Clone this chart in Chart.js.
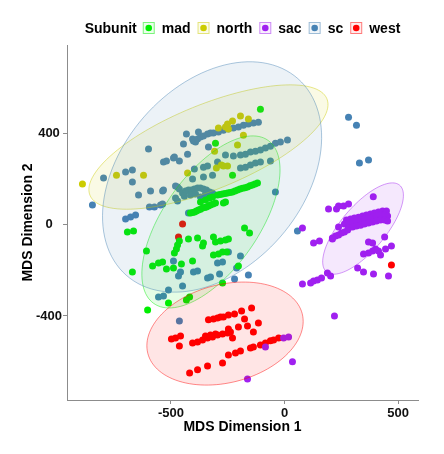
<!DOCTYPE html>
<html>
<head>
<meta charset="utf-8">
<title>MDS by subunit</title>
<script src="https://cdn.jsdelivr.net/npm/chart.js@4.4.1/dist/chart.umd.min.js"></script>
<style>
  html, body { margin: 0; padding: 0; background: #fff; }
  #wrap { width: 444px; height: 454px; position: relative; }
</style>
</head>
<body>
<div id="wrap"><canvas id="mdsChart"></canvas></div>
<script>
// groups (legend order)
const subunits = ['mad', 'north', 'sac', 'sc', 'west'];
const subunitColors = ['#00ee00', '#cccc00', '#a020f0', '#4682b4', '#ff0000'];

// axis ticks
const xTicks = [-500, 0, 500];
const yTicks = [-400, 0, 400];

// points: [dim1, dim2]
const madPts = [
  [-106, 506], [-304, 357], [-229, 217],
  [-295, 130], [-284, 132], [-273, 134], [-262, 137], [-251, 139], [-240, 141], [-229, 143], [-218, 147],
  [-207, 152], [-196, 156], [-185, 160], [-174, 162], [-163, 165], [-152, 170], [-141, 174], [-130, 178], [-119, 182],
  [-370, 99], [-348, 108], [-330, 117], [-317, 121],
  [-414, 51], [-405, 53], [-396, 55], [-388, 60], [-379, 64], [-370, 68], [-361, 73], [-352, 75], [-344, 77],
  [-335, 82], [-326, 86], [-315, 90], [-304, 95], [-269, 95], [-260, 99],
  [-692, -32], [-665, -28], [-608, -115], [-670, -207], [-603, -374],
  [-463, -72], [-471, -89], [-476, -107], [-485, -124], [-423, -63], [-383, -58], [-357, -80], [-361, -93],
  [-313, -54], [-304, -76], [-282, -72], [-260, -67], [-247, -63], [-176, -15], [-154, -37],
  [-313, -133], [-291, -128], [-273, -120], [-255, -120],
  [-581, -181], [-537, -164], [-555, -168], [-520, -194], [-489, -190], [-454, -172], [-405, -159],
  [-203, -181], [-432, -330], [-418, -317], [-511, -343], [-273, -255]
];

const northPts = [
  [-890, 178], [-740, 217], [-621, 217], [-427, 226], [-308, 322], [-300, 248], [-278, 261], [-269, 257],
  [-251, 257], [-207, 349], [-181, 392], [-291, 423], [-260, 428], [-251, 441], [-247, 419], [-229, 454],
  [-194, 476], [-159, 463]
];

const sacPts = [
  [273, 20], [291, 25], [308, 29], [326, 33], [344, 38], [361, 42], [379, 47], [396, 51], [414, 55], [432, 60], [449, 60],
  [264, 3], [282, 7], [300, 12], [317, 16], [335, 20], [352, 25], [370, 29], [388, 33], [405, 38], [423, 42], [441, 42], [454, 38],
  [282, -15], [300, -10], [317, -6], [335, -2], [352, 3], [370, 7], [388, 12], [405, 16], [423, 20], [441, 20], [454, 16],
  [211, -58], [225, -50], [238, -45], [251, -37], [264, -32], [278, -23],
  [391, 122], [194, 69], [229, 69], [238, 82], [260, 82], [282, 90], [238, -10], [79, -15],
  [128, -80], [154, -72], [211, -63], [370, -76], [388, -80], [441, -54],
  [348, -128], [370, -124], [388, -115], [401, -107], [414, -115], [423, -133], [445, -107], [471, -93],
  [322, -190], [348, -207], [392, -216], [458, -225], [189, -212], [203, -225],
  [79, -260], [115, -255], [128, -247], [145, -242], [163, -234],
  [220, -400], [35, -601], [-84, -536], [-4, -496], [18, -492], [-163, -676]
];

const scPts = [
  [-432, 397], [-405, 375], [-392, 362], [-445, 353], [-401, 366], [-383, 375], [-370, 384], [-357, 388],
  [-339, 397], [-326, 401], [-313, 401], [-291, 406], [-269, 414], [-247, 419], [-225, 423], [-203, 428],
  [-181, 436], [-159, 441], [-137, 445], [-115, 449], [-379, 406], [-335, 340],
  [-599, 331], [-533, 274], [-520, 279], [-489, 292], [-485, 296], [-463, 279], [-427, 309],
  [-797, 204], [-700, 231], [-670, 239], [-670, 187], [-643, 130], [-590, 147], [-537, 147], [-533, 152],
  [-480, 169], [-471, 165], [-463, 156], [-846, 86], [-595, 77], [-573, 77], [-546, 86], [-537, 90],
  [-700, 25], [-678, 34], [-656, 42], [-480, 117], [-471, 104],
  [-449, 139], [-436, 147], [-423, 152], [-410, 152], [-397, 156], [-383, 161], [-370, 161], [-357, 156],
  [-344, 152], [-330, 143], [-317, 139], [-441, 125], [-414, 130], [-392, 134], [-370, 121], [-348, 134], [-326, 130],
  [-405, 200], [-357, 209], [-317, 217], [-397, 244], [-357, 252], [-339, 257], [-423, 51],
  [-225, 301], [-194, 305], [-172, 309], [-150, 318], [-128, 322], [-106, 327], [-84, 336], [-62, 344],
  [-40, 357], [-18, 362], [13, 371], [-260, 305], [-295, 274],
  [-194, 248], [-172, 252], [-150, 261], [-128, 270], [-106, 274], [-62, 279], [-40, 143],
  [282, 471], [317, 436], [330, 270], [370, 283], [57, -28], [-159, -220],
  [-489, -159], [-467, -225], [-458, -207], [-449, -269], [-511, -286], [-555, -317], [-533, -312],
  [-401, -207], [-383, -203], [-339, -234], [-326, -229], [-295, -168], [-273, -164], [-247, -120],
  [-194, -137], [-211, -190], [-286, -216], [-220, -238], [-463, -422]
];

const westPts = [
  [-449, 3], [-467, -54], [471, -177],
  [-335, -417], [-313, -413], [-295, -409], [-282, -404], [-269, -404], [-247, -396], [-220, -391],
  [-189, -378], [-145, -365], [-176, -413], [-115, -431], [-203, -448], [-163, -444], [-137, -470],
  [-498, -501], [-480, -496], [-458, -488], [-463, -531], [-405, -518], [-383, -514], [-361, -505],
  [-339, -496], [-317, -492], [-295, -483], [-273, -479], [-251, -474], [-238, -470], [-247, -457],
  [-229, -496], [-348, -488], [-326, -483], [-304, -479],
  [-247, -571], [-216, -562], [-194, -553], [-150, -540], [-137, -536], [-106, -527], [-84, -518],
  [-62, -509], [-48, -505], [-26, -496],
  [-418, -650], [-383, -636], [-339, -619], [-273, -606]
];

// 95% ellipses: [centre x, centre y, semi-major, semi-minor, angle deg]
const madEllipse = [-324, 12, 437, 209, 54.8];
const northEllipse = [-335, 340, 563, 186, 22];
const sacEllipse = [346, -17, 249, 98, 49.6];
const scEllipse = [-319, 209, 573, 399, 48.7];
const westEllipse = [-262, -477, 351, 215, 14.3];

const groupPoints = [madPts, northPts, sacPts, scPts, westPts];
const groupEllipses = [madEllipse, northEllipse, sacEllipse, scEllipse, westEllipse];

function hexToRgba(hex, a) {
  const n = parseInt(hex.slice(1), 16);
  return 'rgba(' + (n >> 16) + ',' + ((n >> 8) & 255) + ',' + (n & 255) + ',' + a + ')';
}

// ellipses go over the points, like the ggplot layer order
const ellipsePlugin = {
  id: 'ellipses',
  afterDatasetsDraw(chart) {
    const ctx = chart.ctx;
    const xs = chart.scales.x, ys = chart.scales.y;
    ctx.save();
    groupEllipses.forEach((e, k) => {
      const t = e[4] * Math.PI / 180;
      ctx.beginPath();
      for (let i = 0; i <= 120; i++) {
        const p = i / 120 * 2 * Math.PI;
        const dx = e[2] * Math.cos(p), dy = e[3] * Math.sin(p);
        const px = xs.getPixelForValue(e[0] + dx * Math.cos(t) - dy * Math.sin(t));
        const py = ys.getPixelForValue(e[1] + dx * Math.sin(t) + dy * Math.cos(t));
        if (i === 0) ctx.moveTo(px, py); else ctx.lineTo(px, py);
      }
      ctx.closePath();
      ctx.fillStyle = hexToRgba(subunitColors[k], 0.1);
      ctx.fill();
      ctx.strokeStyle = hexToRgba(subunitColors[k], 0.45);
      ctx.lineWidth = 1;
      ctx.stroke();
    });
    ctx.restore();
  }
};

// ggplot style legend: title inline, keys are boxes with a dot
const legendPlugin = {
  id: 'subunitLegend',
  afterDraw(chart) {
    const ctx = chart.ctx;
    const area = chart.chartArea;
    ctx.save();
    ctx.font = 'bold 14px "Liberation Sans", Arial, sans-serif';
    ctx.textBaseline = 'middle';
    const yMid = 28;
    const titleW = ctx.measureText('Subunit').width;
    let total = titleW + 6;
    subunits.forEach((s, i) => {
      total += 12 + 7 + ctx.measureText(s).width;
      if (i < subunits.length - 1) total += 7;
    });
    let x = (area.left + area.right) / 2 - total / 2;
    ctx.fillStyle = '#000';
    ctx.textAlign = 'left';
    ctx.fillText('Subunit', x, yMid + 1);
    x += titleW + 6;
    subunits.forEach((s, i) => {
      const c = subunitColors[i];
      ctx.fillStyle = hexToRgba(c, 0.08);
      ctx.fillRect(x + 0.5, yMid - 5.5, 11, 11);
      ctx.strokeStyle = hexToRgba(c, 0.5);
      ctx.lineWidth = 1;
      ctx.strokeRect(x + 0.5, yMid - 5.5, 11, 11);
      ctx.beginPath();
      ctx.arc(x + 6, yMid, 3.3, 0, 2 * Math.PI);
      ctx.fillStyle = c;
      ctx.fill();
      x += 12 + 7;
      ctx.fillStyle = '#000';
      ctx.fillText(s, x, yMid + 1);
      x += ctx.measureText(s).width + 7;
    });
    ctx.restore();
  }
};

Chart.defaults.font.family = '"Liberation Sans", Arial, sans-serif';

new Chart(document.getElementById('mdsChart'), {
  type: 'scatter',
  data: {
    datasets: subunits.map((s, i) => ({
      label: s,
      data: groupPoints[i].map(p => ({ x: p[0], y: p[1] })),
      backgroundColor: subunitColors[i],
      borderWidth: 0,
      pointRadius: 3.5,
      pointHoverRadius: 3.5
    }))
  },
  options: {
    responsive: true,
    maintainAspectRatio: false,
    animation: false,
    layout: { padding: { top: 45, right: 26, bottom: 0, left: 0 } },
    plugins: {
      legend: { display: false },
      tooltip: { enabled: false }
    },
    scales: {
      x: {
        type: 'linear',
        min: -958,
        max: 588,
        afterBuildTicks: s => { s.ticks = xTicks.map(v => ({ value: v })); },
        afterFit: s => { s.height = 54; },
        border: { color: '#8c8c8c', width: 1 },
        grid: { drawOnChartArea: false, tickLength: 4, color: '#8c8c8c' },
        ticks: { font: { size: 13, weight: 'bold' }, color: '#111', padding: 2, maxRotation: 0 },
        title: {
          display: true,
          text: 'MDS Dimension 1',
          font: { size: 14, weight: 'bold' },
          color: '#000',
          padding: { top: 0, bottom: 18 }
        }
      },
      y: {
        type: 'linear',
        min: -768,
        max: 787,
        afterBuildTicks: s => { s.ticks = yTicks.map(v => ({ value: v })); },
        afterFit: s => { s.width = 67; },
        border: { color: '#8c8c8c', width: 1 },
        grid: { drawOnChartArea: false, tickLength: 4, color: '#8c8c8c' },
        ticks: { font: { size: 13, weight: 'bold' }, color: '#111', padding: 1, crossAlign: 'center' },
        title: {
          display: true,
          text: 'MDS Dimension 2',
          font: { size: 14, weight: 'bold' },
          color: '#000',
          padding: { top: 20, bottom: 0 }
        }
      }
    }
  },
  plugins: [ellipsePlugin, legendPlugin]
});
</script>
</body>
</html>
